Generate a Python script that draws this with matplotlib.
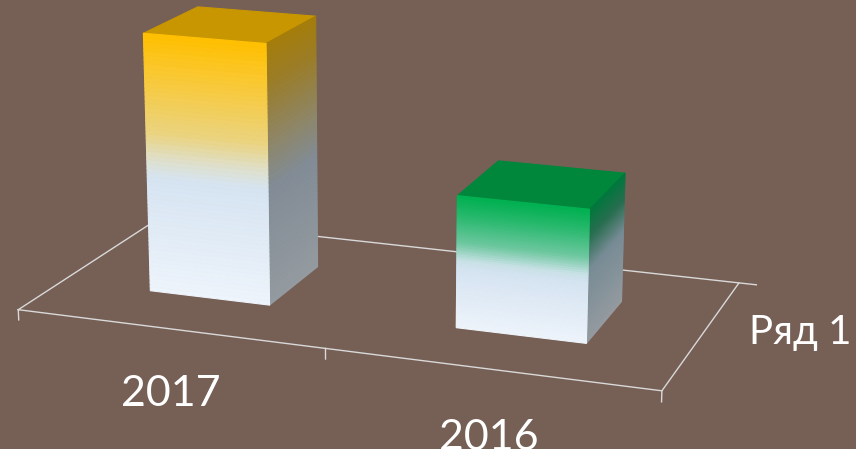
import numpy as np
import matplotlib
matplotlib.use('Agg')
import matplotlib.pyplot as plt
from mpl_toolkits.mplot3d.art3d import Poly3DCollection

# ── data ────────────────────────────────────────────────────────────────
categories = ['2017', '2016']
values = [2.0, 1.0]
series_name = 'Ряд 1'

BG = '#765F55'
LINE = '#D9D9D9'
FONT = ['Lato', 'Noto Sans', 'DejaVu Sans']

# gradient stops (t = fraction of bar height from bottom), rgb 0-255
YELLOW = dict(
    front=([0, .45, .52, .62, .85, 1],
           [(238, 244, 251), (214, 228, 242), (222, 224, 205), (234, 212, 130),
            (250, 200, 50), (255, 192, 0)]),
    side=([0, .45, .6, .85, 1],
          [(148, 155, 160), (130, 140, 150), (140, 135, 110), (155, 125, 40),
           (165, 125, 10)]),
    top=(200, 150, 0))
GREEN = dict(
    front=([0, .45, .52, .65, .85, 1],
           [(238, 244, 251), (214, 228, 242), (200, 225, 230), (110, 200, 160),
            (40, 185, 110), (0, 176, 80)]),
    side=([0, .55, .8, 1],
          [(148, 155, 160), (120, 140, 150), (40, 110, 80), (0, 120, 60)]),
    top=(0, 135, 60))
styles = [YELLOW, GREEN]


def grad(stops, t):
    ts, cs = stops
    cs = np.array(cs, float) / 255
    return [np.interp(t, ts, cs[:, k]) for k in range(3)]


def bar_faces(x0, x1, y0, y1, h, style, n=60):
    """visible faces only: front (-y), right side (+x), top"""
    polys, cols = [], []
    zs = np.linspace(0, h, n + 1)
    for i in range(n):
        za, zb = zs[i], zs[i + 1]
        t = (i + .5) / n
        polys.append([(x0, y0, za), (x1, y0, za), (x1, y0, zb), (x0, y0, zb)])
        cols.append(grad(style['front'], t))
        polys.append([(x1, y0, za), (x1, y1, za), (x1, y1, zb), (x1, y0, zb)])
        cols.append(grad(style['side'], t))
    polys.append([(x0, y0, h), (x1, y0, h), (x1, y1, h), (x0, y1, h)])
    cols.append(np.array(style['top']) / 255)
    return polys, cols


fig = plt.figure(figsize=(8.56, 4.49), dpi=100, facecolor=BG)
# 3d axes are drawn in a square; make it cover the whole figure
sq_w = 1.1
sq_h = sq_w * 8.56 / 4.49
ax = fig.add_axes([0.5 - sq_w / 2 - 0.0658, 0.5 - sq_h / 2 + 0.0964, sq_w, sq_h],
                  projection='3d', computed_zorder=False)
ax.set_facecolor(BG)
ax.patch.set_alpha(0)
ax.set_proj_type('persp', focal_length=0.49)
ax.view_init(elev=15.9, azim=-70.0)
ax.set_xlim(0, 2); ax.set_ylim(0, 1); ax.set_zlim(0, 2)
ax.set_box_aspect((2, 1, 0.818), zoom=0.808)
ax.set_axis_off()

# floor frame + ticks
n = len(categories)
kw = dict(color=LINE, lw=1.0, zorder=1)
ax.plot([0, n, n, 0, 0], [0, 0, 1, 1, 0], [0, 0, 0, 0, 0], **kw)
for i in range(n + 1):
    ax.plot([i, i], [0, 0], [0, -0.08], **kw)
ax.plot([n, n + 0.055], [1, 1], [0, 0], **kw)

# bars
w = 0.4
for i, (v, st) in enumerate(zip(values, styles)):
    x0, x1 = i + .5 - w / 2, i + .5 + w / 2
    polys, cols = bar_faces(x0, x1, .5 - w / 2, .5 + w / 2, v, st)
    pc = Poly3DCollection(polys, facecolors=cols, edgecolors=cols,
                          linewidths=0.8, zorder=2)
    ax.add_collection3d(pc)

for i, c in enumerate(categories):
    ax.text(i + .5, 0, -0.6, c, color='white', fontsize=31, family=FONT,
            ha='center', va='baseline')
ax.text(n + 0.14, 0.5, -0.04, series_name, color='white', fontsize=29,
        family=FONT, ha='left', va='baseline')

fig.savefig('out.png', dpi=100, facecolor=BG)
